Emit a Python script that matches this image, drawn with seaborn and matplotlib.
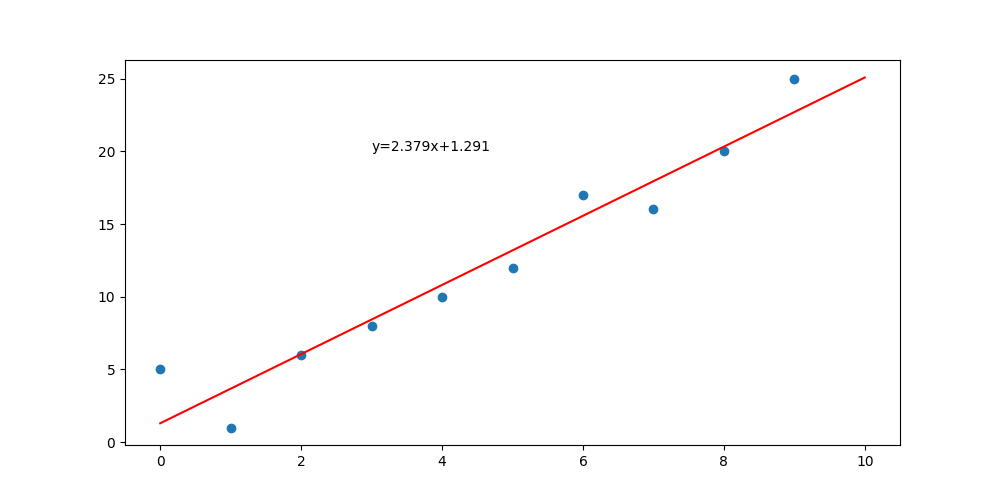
import matplotlib
matplotlib.use("Agg")
import matplotlib.pyplot as plt
import seaborn as sns

# observed points
x = [0, 1, 2, 3, 4, 5, 6, 7, 8, 9]
y = [5, 1, 6, 8, 10, 12, 17, 16, 20, 25]

# fitted line as labelled in the chart
slope = 2.379
intercept = 1.291
line_x = [0, 10]
line_y = [slope * v + intercept for v in line_x]
label = f"y={slope}x+{intercept}"

fig, ax = plt.subplots(figsize=(10, 5), dpi=100)
sns.scatterplot(x=x, y=y, ax=ax, color="#1f77b4", s=36,
                edgecolor="#1f77b4", linewidth=1)
sns.lineplot(x=line_x, y=line_y, ax=ax, color="red")
ax.text(3, 20, label)
ax.set_xticks([0, 2, 4, 6, 8, 10])
ax.set_yticks([0, 5, 10, 15, 20, 25])

plt.savefig("out.png")
